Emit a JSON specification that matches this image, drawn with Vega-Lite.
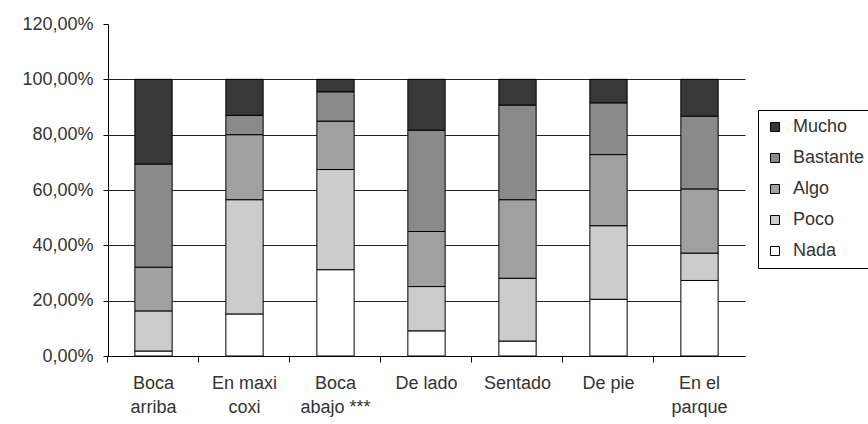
{
  "$schema": "https://vega.github.io/schema/vega-lite/v6.json",
  "width": 637,
  "height": 332,
  "autosize": "none",
  "padding": {"left": 108, "top": 24, "right": 123, "bottom": 68},
  "background": "white",
  "config": {
    "font": "Liberation Sans",
    "view": {"stroke": null},
    "axis": {"labelFont": "Liberation Sans", "labelColor": "#333", "domainColor": "#000", "tickColor": "#000", "labelFontSize": 18}
  },
  "data": {
    "values": [
      {"pos": "Boca\narriba", "nivel": "Nada", "v": 0.018},
      {"pos": "Boca\narriba", "nivel": "Poco", "v": 0.145},
      {"pos": "Boca\narriba", "nivel": "Algo", "v": 0.158},
      {"pos": "Boca\narriba", "nivel": "Bastante", "v": 0.373},
      {"pos": "Boca\narriba", "nivel": "Mucho", "v": 0.306},
      {"pos": "En maxi\ncoxi", "nivel": "Nada", "v": 0.152},
      {"pos": "En maxi\ncoxi", "nivel": "Poco", "v": 0.413},
      {"pos": "En maxi\ncoxi", "nivel": "Algo", "v": 0.235},
      {"pos": "En maxi\ncoxi", "nivel": "Bastante", "v": 0.070},
      {"pos": "En maxi\ncoxi", "nivel": "Mucho", "v": 0.130},
      {"pos": "Boca\nabajo ***", "nivel": "Nada", "v": 0.312},
      {"pos": "Boca\nabajo ***", "nivel": "Poco", "v": 0.362},
      {"pos": "Boca\nabajo ***", "nivel": "Algo", "v": 0.175},
      {"pos": "Boca\nabajo ***", "nivel": "Bastante", "v": 0.106},
      {"pos": "Boca\nabajo ***", "nivel": "Mucho", "v": 0.045},
      {"pos": "De lado", "nivel": "Nada", "v": 0.091},
      {"pos": "De lado", "nivel": "Poco", "v": 0.160},
      {"pos": "De lado", "nivel": "Algo", "v": 0.199},
      {"pos": "De lado", "nivel": "Bastante", "v": 0.366},
      {"pos": "De lado", "nivel": "Mucho", "v": 0.184},
      {"pos": "Sentado", "nivel": "Nada", "v": 0.054},
      {"pos": "Sentado", "nivel": "Poco", "v": 0.227},
      {"pos": "Sentado", "nivel": "Algo", "v": 0.284},
      {"pos": "Sentado", "nivel": "Bastante", "v": 0.342},
      {"pos": "Sentado", "nivel": "Mucho", "v": 0.093},
      {"pos": "De pie", "nivel": "Nada", "v": 0.205},
      {"pos": "De pie", "nivel": "Poco", "v": 0.266},
      {"pos": "De pie", "nivel": "Algo", "v": 0.257},
      {"pos": "De pie", "nivel": "Bastante", "v": 0.187},
      {"pos": "De pie", "nivel": "Mucho", "v": 0.085},
      {"pos": "En el\nparque", "nivel": "Nada", "v": 0.273},
      {"pos": "En el\nparque", "nivel": "Poco", "v": 0.099},
      {"pos": "En el\nparque", "nivel": "Algo", "v": 0.232},
      {"pos": "En el\nparque", "nivel": "Bastante", "v": 0.263},
      {"pos": "En el\nparque", "nivel": "Mucho", "v": 0.133}
    ]
  },
  "transform": [
    {"calculate": "indexof(['Nada','Poco','Algo','Bastante','Mucho'], datum.nivel)", "as": "orden"}
  ],
  "mark": {"type": "bar", "stroke": "#000", "strokeWidth": 1},
  "encoding": {
    "x": {
      "field": "pos",
      "type": "nominal",
      "sort": null,
      "scale": {"paddingInner": 0.59, "paddingOuter": 0.295},
      "axis": {
        "title": null,
        "labelAngle": 0,
        "labelExpr": "split(datum.label, '\\n')",
        "labelLineHeight": 24,
        "labelPadding": 12,
        "ticks": true,
        "tickSize": 6,
        "tickWidth": 1,
        "tickOpacity": 1,
        "bandPosition": -0.72,
        "domainWidth": 1,
        "grid": false
      }
    },
    "y": {
      "field": "v",
      "type": "quantitative",
      "stack": "zero",
      "scale": {"domain": [0, 1.2], "nice": false},
      "axis": {
        "title": null,
        "values": [0, 0.2, 0.4, 0.6, 0.8, 1.0, 1.2],
        "labelExpr": "replace(format(datum.value, '.2%'), '.', ',')",
        "tickSize": 5,
        "labelPadding": 10,
        "grid": true,
        "gridColor": "#222",
        "gridOpacity": {"expr": "datum.value > 1.1 ? 0 : 1"}
      }
    },
    "order": {"field": "orden", "type": "quantitative", "sort": "ascending"},
    "color": {
      "field": "nivel",
      "type": "nominal",
      "scale": {
        "domain": ["Mucho", "Bastante", "Algo", "Poco", "Nada"],
        "range": ["#383838", "#8a8a8a", "#a0a0a0", "#cccccc", "#ffffff"]
      },
      "legend": {
        "title": null,
        "orient": "none",
        "legendX": 650,
        "legendY": 86,
        "symbolType": "square",
        "symbolSize": 81,
        "symbolStrokeColor": "#000",
        "symbolStrokeWidth": 1,
        "labelFontSize": 18,
        "labelFont": "Liberation Sans",
        "labelColor": "#333",
        "labelOffset": 9,
        "rowPadding": 13,
        "padding": 8,
        "strokeColor": "#000",
        "fillColor": "white"
      }
    }
  }
}
